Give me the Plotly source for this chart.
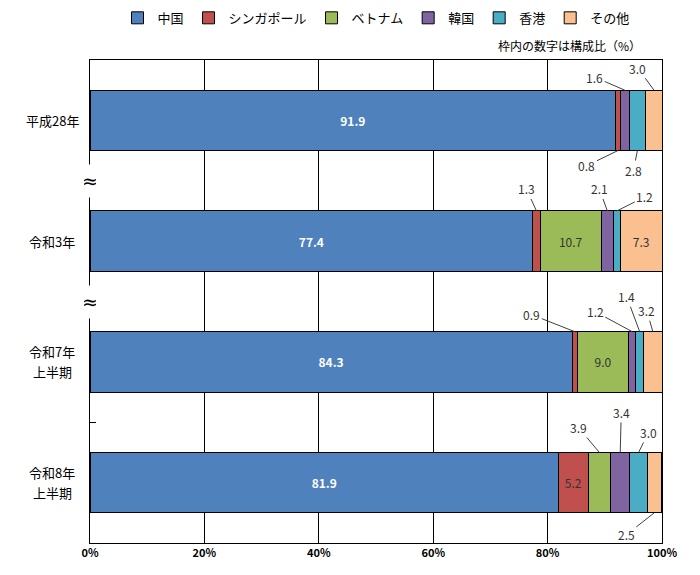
import plotly.graph_objects as go

# 年次ごとの構成比（%）
categories = ["平成28年", "令和3年", "令和7年<br>上半期", "令和8年<br>上半期"]
china = [91.9, 77.4, 84.3, 81.9]
singapore = [0.8, 1.3, 0.9, 5.2]
vietnam = [None, 10.7, 9.0, 3.9]
korea = [1.6, 2.1, 1.2, 3.4]
hongkong = [2.8, 1.2, 1.4, 3.0]
others = [3.0, 7.3, 3.2, 2.5]
x_ticks = [0, 20, 40, 60, 80, 100]

series = [
    ("中国", china, "#4F81BD"),
    ("シンガポール", singapore, "#C0504D"),
    ("ベトナム", vietnam, "#9BBB59"),
    ("韓国", korea, "#8064A2"),
    ("香港", hongkong, "#4BACC6"),
    ("その他", others, "#FAC090"),
]

# 枠外ラベルの引出し位置 (row, series) -> (ax, ay) in px
label_offsets = {
    (0, "シンガポール"): (-31, 15),
    (0, "韓国"): (-30, -13),
    (0, "香港"): (-4, 20),
    (0, "その他"): (-16, -22),
    (1, "シンガポール"): (-10, -22),
    (1, "韓国"): (-8, -22),
    (1, "香港"): (28, -14),
    (2, "シンガポール"): (-43, -17),
    (2, "韓国"): (-37, -20),
    (2, "香港"): (-13, -35),
    (2, "その他"): (-6, -21),
    (3, "ベトナム"): (-21, -25),
    (3, "韓国"): (1, -40),
    (3, "香港"): (10, -20),
    (3, "その他"): (-28, 22),
}

FONT = "Noto Sans CJK JP"
rows = list(range(len(categories)))

fig = go.Figure()
annotations = []
left = [0.0] * len(categories)

for name, values, color in series:
    texts = []
    for i, v in enumerate(values):
        if v is not None and v >= 5:
            texts.append(f"{v:.1f}")
        else:
            texts.append("")
            if v is not None:
                ax, ay = label_offsets[(i, name)]
                edge = i - 0.25 if ay < 0 else i + 0.25
                annotations.append(dict(
                    x=left[i] + v / 2, y=edge, xref="x", yref="y",
                    text=f"{v:.1f}", showarrow=True, arrowhead=0,
                    arrowwidth=1, arrowcolor="#404040",
                    ax=ax, ay=ay, standoff=0,
                    font=dict(size=12, color="#333333", family=FONT),
                ))
        if v is not None:
            left[i] += v

    is_china = name == "中国"
    fig.add_trace(go.Bar(
        name=name,
        x=values,
        y=rows,
        orientation="h",
        width=0.5,
        marker=dict(color=color, line=dict(color="black", width=1)),
        text=texts,
        textposition="inside",
        insidetextanchor="middle",
        constraintext="none",
        textangle=0,
        textfont=dict(
            size=12,
            color="white" if is_china else "#333333",
            weight="bold" if is_china else "normal",
            family=FONT,
        ),
        hoverinfo="skip",
    ))

# 縦軸のカテゴリ名（行ごとに配置）
for i, cat in enumerate(categories):
    lines = cat.split("<br>")
    n = len(lines)
    for k, line in enumerate(lines):
        annotations.append(dict(
            x=-0.066, y=i, xref="paper", yref="y", text=line,
            showarrow=False, xanchor="center", yanchor="middle",
            yshift=(n - 1) * 10 - k * 20,
            font=dict(size=13, color="black", family=FONT),
        ))

# 軸の省略記号
for b in [0.5, 1.5]:
    annotations.append(dict(
        x=0, y=b, xref="paper", yref="y", text="≈",
        showarrow=False, xanchor="center", yanchor="middle",
        bgcolor="white", width=12, height=30,
        font=dict(size=20, color="black", family="DejaVu Serif"),
    ))

annotations.append(dict(
    x=0.967, y=1.031, xref="paper", yref="paper",
    text="枠内の数字は構成比（%）", showarrow=False,
    xanchor="right", yanchor="middle",
    font=dict(size=12, color="black", family=FONT),
))

fig.update_layout(
    barmode="stack",
    width=700,
    height=575,
    margin=dict(l=90, r=38, t=60, b=32),
    plot_bgcolor="white",
    paper_bgcolor="white",
    font=dict(family=FONT, color="black"),
    legend=dict(
        orientation="h",
        x=0.5, xanchor="center",
        y=0.995, yref="container", yanchor="top",
        font=dict(size=13, family=FONT),
        traceorder="normal",
    ),
    annotations=annotations,
)

fig.update_xaxes(
    range=[0, 100],
    tickvals=x_ticks,
    ticktext=[f"{t}%" for t in x_ticks],
    showgrid=True,
    gridcolor="black",
    gridwidth=1,
    showline=True,
    linecolor="black",
    linewidth=1,
    mirror=True,
    ticks="",
    zeroline=False,
    tickfont=dict(size=11, weight="bold", family=FONT),
)

fig.update_yaxes(
    range=[3.5, -0.5],
    tickvals=rows,
    ticktext=[""] * len(rows),
    showgrid=False,
    showline=True,
    linecolor="black",
    linewidth=1,
    mirror=True,
    zeroline=False,
    ticks="",
    minor=dict(tickvals=[0.5, 1.5, 2.5], ticks="inside", ticklen=6,
               tickcolor="black", showgrid=False),
)

fig.write_html(
    "out.html",
    config={"displayModeBar": False},
    post_script="document.body.style.margin='0';",
)
